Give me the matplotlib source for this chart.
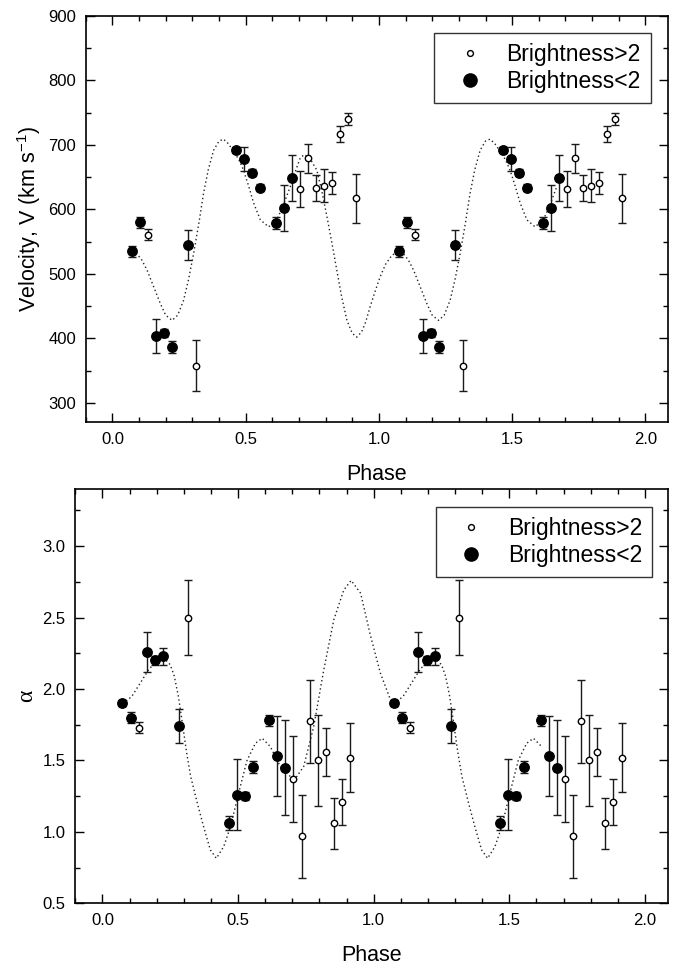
import numpy as np
import matplotlib
matplotlib.use('Agg')
import matplotlib.pyplot as plt
from matplotlib.lines import Line2D
from matplotlib.ticker import MultipleLocator

plt.rcParams['font.family'] = ['Liberation Sans', 'DejaVu Sans']
plt.rcParams['mathtext.fontset'] = 'custom'
plt.rcParams['mathtext.rm'] = 'Liberation Sans'
plt.rcParams['mathtext.it'] = 'Liberation Sans:italic'

# observed points (one cycle, plotted again at phase + 1)
phase = [0.074, 0.105, 0.135, 0.165, 0.195, 0.225, 0.284, 0.314, 0.465, 0.495, 0.524, 0.554,
         0.615, 0.645, 0.674, 0.704, 0.734, 0.764, 0.794, 0.824, 0.854, 0.884, 0.914]
bright = [0, 0, 1, 0, 0, 0, 0, 1, 0, 0, 0, 0,
          0, 0, 0, 1, 1, 1, 1, 1, 1, 1, 1]   # 1 = Brightness>2
velocity = [535, 580, 561, 404, 408, 387, 545, 358, 692, 678, 657, 634,
            579, 602, 649, 632, 679, 633, 637, 641, 717, 740, 617]
vel_err = [9, 9, 9, 26, 6, 9, 23, 40, 5, 19, 5, 5,
           9, 36, 36, 28, 23, 20, 26, 17, 12, 9, 38]
alpha = [1.90, 1.80, 1.73, 2.26, 2.20, 2.23, 1.74, 2.50, 1.06, 1.26, 1.25, 1.455,
         1.78, 1.53, 1.45, 1.37, 0.97, 1.775, 1.50, 1.56, 1.06, 1.21, 1.52]
alpha_err = [0.02, 0.04, 0.04, 0.14, 0.03, 0.06, 0.12, 0.26, 0.05, 0.25, 0.03, 0.04,
             0.04, 0.28, 0.33, 0.30, 0.29, 0.29, 0.32, 0.17, 0.18, 0.16, 0.24]

# dotted model curves, one cycle
vcurve_phase = [0.074, 0.09, 0.11, 0.13, 0.155, 0.18, 0.20, 0.224, 0.245, 0.267, 0.285, 0.305,
                0.325, 0.342, 0.36, 0.38, 0.40, 0.417, 0.435, 0.455, 0.475, 0.492, 0.51, 0.53,
                0.555, 0.586, 0.617, 0.64, 0.667, 0.69, 0.705, 0.72, 0.74, 0.767, 0.785, 0.805,
                0.825, 0.842, 0.86, 0.88, 0.90, 0.917, 0.935, 0.95, 0.967, 0.985, 1.005, 1.025,
                1.049]
vcurve = [535, 532, 522, 506, 480, 454, 436, 428, 436, 459, 490, 532,
          580, 625, 662, 692, 706, 709, 702, 690, 677, 661, 638, 610,
          584, 573, 584, 605, 635, 663, 680, 685, 680, 661, 630, 589,
          545, 506, 465, 428, 408, 402, 410, 425, 449, 472, 496, 515,
          529]
acurve_phase = [0.074, 0.09, 0.108, 0.139, 0.17, 0.201, 0.225, 0.25, 0.265, 0.28, 0.295, 0.31,
                0.325, 0.35, 0.373, 0.398, 0.42, 0.447, 0.472, 0.502, 0.533, 0.564, 0.589, 0.619,
                0.656, 0.693, 0.712, 0.742, 0.779, 0.816, 0.853, 0.89, 0.917, 0.952, 0.989, 1.025,
                1.062]
acurve = [1.90, 1.92, 1.947, 2.04, 2.134, 2.20, 2.22, 2.17, 2.09, 1.95, 1.76, 1.56,
          1.39, 1.20, 1.036, 0.873, 0.815, 0.896, 1.036, 1.27, 1.50, 1.62, 1.655, 1.597,
          1.457, 1.387, 1.375, 1.457, 1.737, 2.134, 2.484, 2.694, 2.76, 2.67, 2.367, 2.11,
          1.924]
vcurve_end = 1.667
acurve_end = 1.645

fig = plt.figure(figsize=(6.74, 9.67), dpi=100)
ax1 = fig.add_axes([0.1272, 0.5633, 0.8644, 0.4202])
ax2 = fig.add_axes([0.1117, 0.0659, 0.8798, 0.4284])

ph = np.array(phase)
br = np.array(bright) == 1


def panel(ax, vals, errs, cph, cval, cend):
    cph = np.array(cph)
    cval = np.array(cval)
    xs = np.concatenate([cph, cph + 1])
    ys = np.concatenate([cval, cval])
    keep = xs <= cend
    ax.plot(xs[keep], ys[keep], color='#222222', lw=1.0, dashes=(1, 2), zorder=1)
    vals = np.array(vals)
    errs = np.array(errs)
    for shift in (0, 1):
        x = ph + shift
        ax.errorbar(x, vals, yerr=errs, fmt='none', ecolor='#1a1a1a', elinewidth=1.0,
                    capsize=3, capthick=1.0, zorder=2)
        ax.plot(x[~br], vals[~br], 'o', ms=6.8, mfc='black', mec='black', zorder=3)
        ax.plot(x[br], vals[br], 'o', ms=4.6, mfc='white', mec='black', mew=1.0, zorder=3)
    ax.set_xlim(-0.1, 2.086)
    ax.xaxis.set_major_locator(MultipleLocator(0.5))
    ax.xaxis.set_minor_locator(MultipleLocator(0.1))
    ax.tick_params(which='both', direction='in', top=True, right=True, labelsize=12, width=1.0)
    ax.tick_params(which='major', length=6.5, pad=7)
    ax.tick_params(which='minor', length=3.5)
    for s in ax.spines.values():
        s.set_linewidth(1.2)
    ax.set_xlabel('Phase', fontsize=15.5, labelpad=12)
    handles = [Line2D([], [], ls='none', marker='o', ms=4.2, mfc='white', mec='black', mew=1.0),
               Line2D([], [], ls='none', marker='o', ms=9.5, mfc='black', mec='black')]
    return handles


h = panel(ax1, velocity, vel_err, vcurve_phase, vcurve, vcurve_end)
ax1.set_ylim(270, 900)
ax1.yaxis.set_major_locator(MultipleLocator(100))
ax1.yaxis.set_minor_locator(MultipleLocator(50))
ax1.set_ylabel('Velocity, V (km s$^{-1}$)', fontsize=15.5, labelpad=4)
leg = ax1.legend(h, ['Brightness>2', 'Brightness<2'], loc='upper right',
                 bbox_to_anchor=(0.970, 0.958), borderaxespad=0, fontsize=16.5,
                 frameon=True, fancybox=False, handlelength=2.2, handletextpad=0.5,
                 labelspacing=0.15, borderpad=0.45)
leg.get_frame().set_edgecolor('black')
leg.get_frame().set_linewidth(1.0)

h = panel(ax2, alpha, alpha_err, acurve_phase, acurve, acurve_end)
ax2.set_ylim(0.5, 3.4)
ax2.yaxis.set_major_locator(MultipleLocator(0.5))
ax2.yaxis.set_minor_locator(MultipleLocator(0.25))
ax2.set_ylabel('α', fontsize=17, family='Liberation Serif', labelpad=4)
leg = ax2.legend(h, ['Brightness>2', 'Brightness<2'], loc='upper right',
                 bbox_to_anchor=(0.973, 0.957), borderaxespad=0, fontsize=16.5,
                 frameon=True, fancybox=False, handlelength=2.2, handletextpad=0.5,
                 labelspacing=0.15, borderpad=0.45)
leg.get_frame().set_edgecolor('black')
leg.get_frame().set_linewidth(1.0)

fig.savefig('out.png', dpi=100)
